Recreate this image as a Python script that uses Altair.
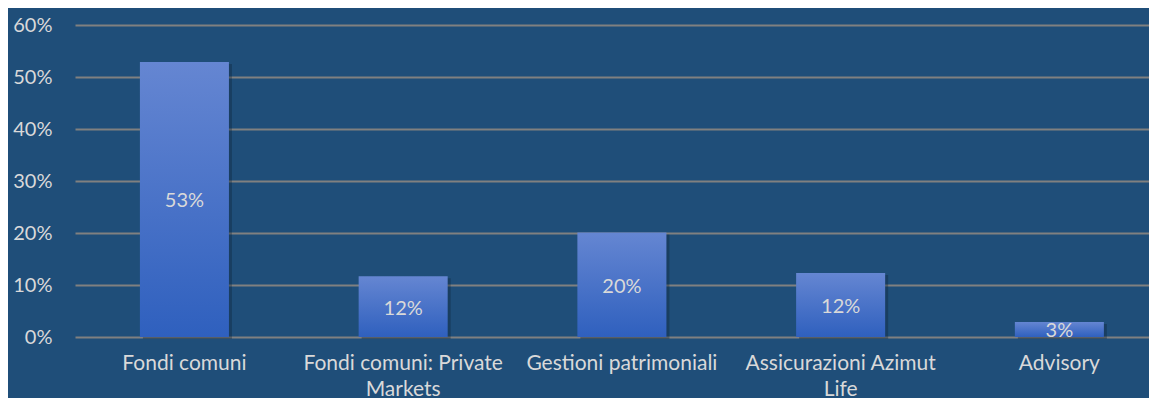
import json
import altair as alt
import pandas as pd

categories = [
    "Fondi comuni",
    "Fondi comuni: Private Markets",
    "Gestioni patrimoniali",
    "Assicurazioni Azimut Life",
    "Advisory",
]
shares = [0.529, 0.117, 0.201, 0.123, 0.029]
label_lines = [
    ["Fondi comuni"],
    ["Fondi comuni: Private", "Markets"],
    ["Gestioni patrimoniali"],
    ["Assicurazioni Azimut", "Life"],
    ["Advisory"],
]
y_ticks = [0.0, 0.1, 0.2, 0.3, 0.4, 0.5, 0.6]

df = pd.DataFrame({"cat": categories, "share": shares})

BG = "#1F4E79"
TXT = "#D9D9D9"
FONT = "Lato"

label_expr = "datum.label"
for cat, lines in reversed(list(zip(categories, label_lines))):
    if len(lines) > 1:
        label_expr = f"datum.value === {json.dumps(cat)} ? {json.dumps(lines)} : ({label_expr})"

x_enc = alt.X(
    "cat:N",
    sort=categories,
    title=None,
    scale=alt.Scale(paddingInner=0.593, paddingOuter=0.2515, align=0.59),
    axis=alt.Axis(
        labelAngle=0,
        labelExpr=label_expr,
        labelFont=FONT,
        labelFontSize=21,
        labelColor=TXT,
        labelPadding=15,
        labelLineHeight=26,
        labelLimit=400,
        labelOverlap=False,
        ticks=False,
        tickSize=0,
        domain=False,
        grid=False,
    ),
)
y_scale = alt.Scale(domain=[0, 0.6], nice=False)
y_axis = alt.Axis(
    values=y_ticks,
    format=".0%",
    labelFont=FONT,
    labelFontSize=20,
    labelColor=TXT,
    labelPadding=23,
    ticks=False,
    tickSize=0,
    domain=False,
    grid=True,
    gridColor="#808080",
    gridWidth=1.8,
)

base = alt.Chart(df)

shadow = base.mark_bar(color="#0d2236", opacity=0.35, xOffset=3, yOffset=2).encode(
    x=x_enc,
    y=alt.Y("share:Q", scale=y_scale, axis=y_axis, title=None),
)

bars = base.mark_bar(
    color=alt.Gradient(
        gradient="linear",
        stops=[
            alt.GradientStop(color="#6586D2", offset=0),
            alt.GradientStop(color="#2F60BE", offset=1),
        ],
        x1=1, x2=1, y1=0, y2=1,
    )
).encode(
    x=x_enc,
    y=alt.Y("share:Q", scale=y_scale, title=None),
)

labels = base.transform_calculate(mid="datum.share / 2").mark_text(
    font=FONT, fontSize=20, color=TXT, baseline="middle", align="center", dy=2
).encode(
    x=x_enc,
    y=alt.Y("mid:Q", scale=y_scale, title=None),
    text=alt.Text("share:Q", format=".0%"),
)

chart = (
    alt.layer(shadow, bars, labels)
    .properties(
        width=1074,
        height=312,
        background=BG,
        padding={"left": 67, "top": 17, "right": 0, "bottom": 61},
        autosize=alt.AutoSizeParams(type="none"),
    )
    .configure_view(stroke=None)
)

chart.save("out.html", embed_options={"renderer": "svg", "actions": False})
